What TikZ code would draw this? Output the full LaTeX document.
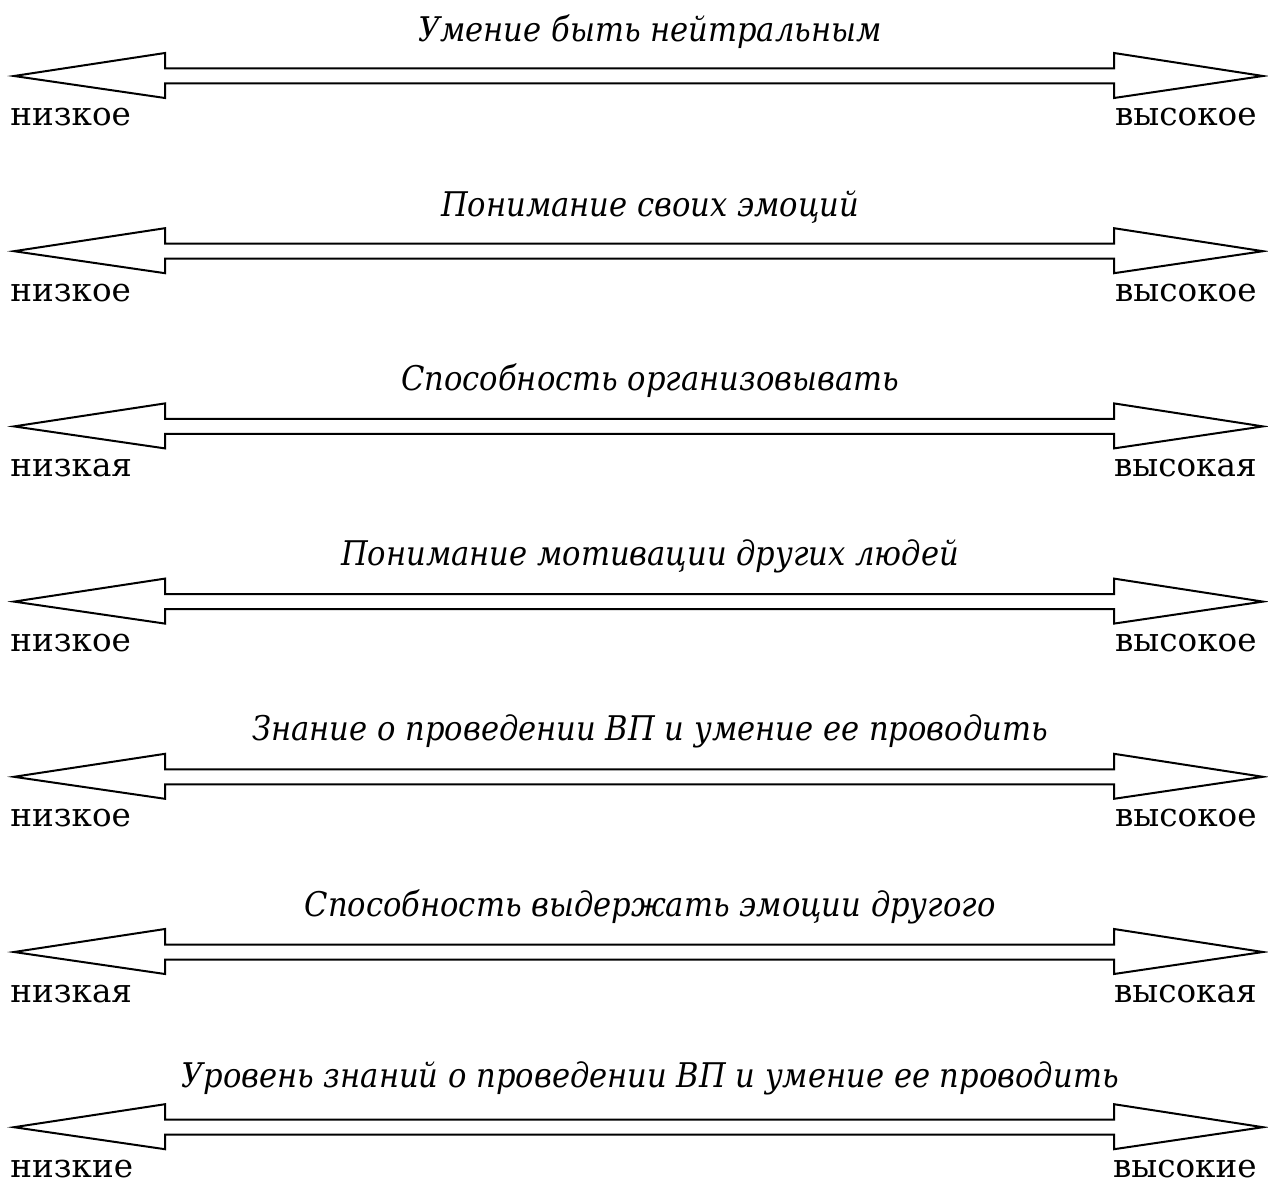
\documentclass[tikz,border=0pt]{standalone}
\usepackage{fontspec}
\setmainfont{DejaVu Serif}
\newfontfamily\condfont{DejaVu Serif Condensed}
\begin{document}
\begin{tikzpicture}[x=0.5pt,y=-0.5pt,
  dbl/.style={draw=black,line width=1pt,fill=white,line join=miter},
  ttl/.style={anchor=base,inner sep=0pt,font=\condfont\fontsize{17}{19}\selectfont\itshape},
  lo/.style={anchor=base west,inner sep=0pt,font=\fontsize{16.3}{18}\selectfont},
  hi/.style={anchor=base east,inner sep=0pt,font=\fontsize{16.3}{18}\selectfont}]
\useasboundingbox (0,0) rectangle (1268,1182);
\foreach \i/\t/\l/\h/\o in {
 0/{Умение быть нейтральным}/низкое/высокое/34,
 1/{Понимание своих эмоций}/низкое/высокое/35,
 2/{Способность организовывать}/низкая/высокая/36,
 3/{Понимание мотивации других людей}/низкое/высокое/36,
 4/{Знание о проведении ВП и умение ее проводить}/низкое/высокое/36,
 5/{Способность выдержать эмоции другого}/низкая/высокая/36,
 6/{Уровень знаний о проведении ВП и умение ее проводить}/низкие/высокие/40}{
  \pgfmathsetmacro\c{76+175.2*\i}
  \draw[dbl] (14,\c) -- (165,\c-23) -- (165,\c-7.5) -- (1114,\c-7.5) -- (1114,\c-23)
    -- (1263,\c) -- (1114,\c+22) -- (1114,\c+7.5) -- (165,\c+7.5) -- (165,\c+22) -- cycle;
  \node[ttl] (t\i) at (650,\c-\o) {\t};
  \node[lo] (l\i) at (10,\c+50) {\l};
  \node[hi] (h\i) at (1257,\c+50) {\h};
}
\end{tikzpicture}
\end{document}
